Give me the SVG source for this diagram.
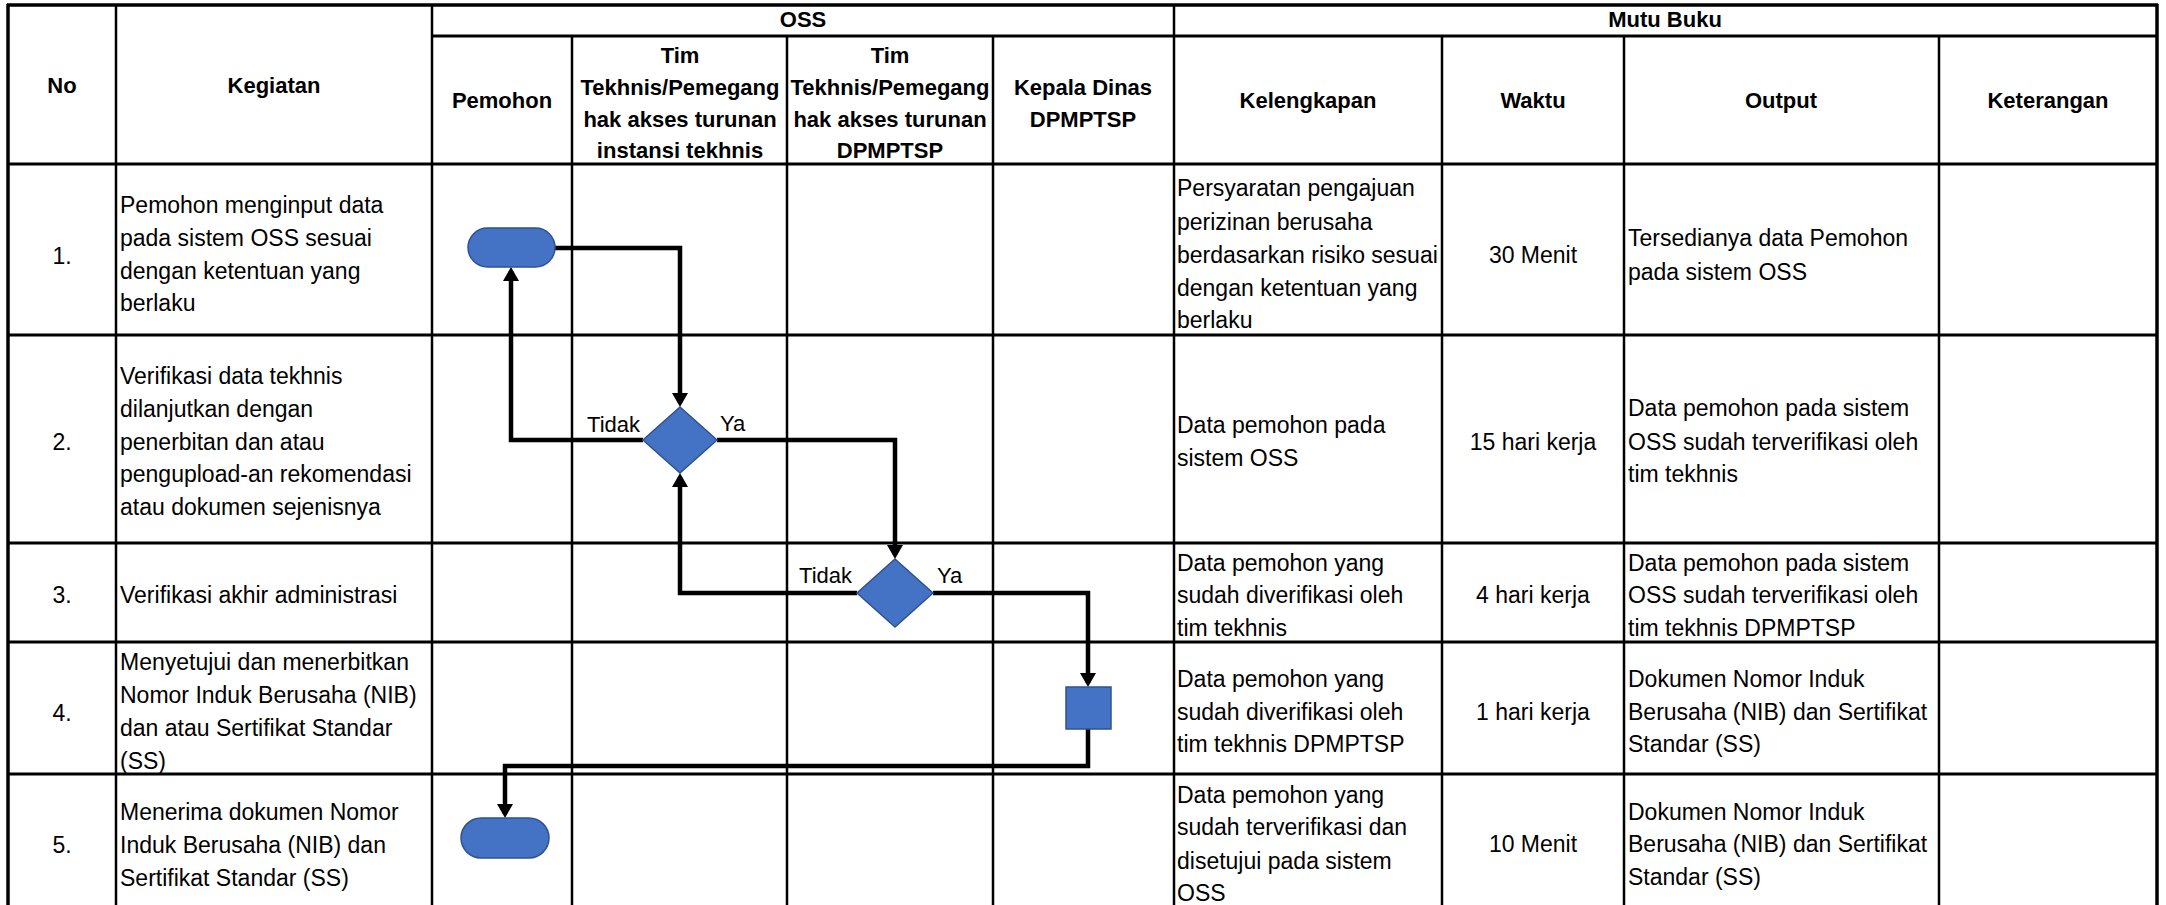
<svg xmlns="http://www.w3.org/2000/svg" width="2166" height="905" viewBox="0 0 2166 905">
<defs>
<style>
.t{font-family:"Liberation Sans",Arial,sans-serif;font-size:23px;fill:#000}
.b{font-weight:bold;font-size:22px}
.c{text-anchor:middle}
.e{text-anchor:end}
.lbl{font-family:"Liberation Sans",Arial,sans-serif;font-size:22px;fill:#000}
.g line{stroke:#000;stroke-width:2.5}
.g .h{stroke-width:3}
.g .o{stroke-width:3.5}
.shape{fill:#4472C4;stroke:#2F528F;stroke-width:1.5}
.conn{fill:none;stroke:#000;stroke-width:4.5;stroke-linejoin:miter}
</style>
<marker id="arr" markerUnits="userSpaceOnUse" markerWidth="16" markerHeight="16" refX="10" refY="8" orient="auto">
<path d="M0,0 L14,8 L0,16 z" fill="#000"/>
</marker>
</defs>
<rect x="0" y="0" width="2166" height="905" fill="#fff"/>

<g id="table" class="g">
<line class="o" x1="7" y1="5" x2="2158" y2="5"/>
<line class="h" x1="432" y1="36" x2="2157" y2="36"/>
<line class="h" x1="8" y1="164" x2="2157" y2="164"/>
<line class="h" x1="8" y1="335" x2="2157" y2="335"/>
<line class="h" x1="8" y1="543" x2="2157" y2="543"/>
<line class="h" x1="8" y1="642" x2="2157" y2="642"/>
<line class="h" x1="8" y1="774" x2="2157" y2="774"/>
<line class="o" x1="8" y1="4" x2="8" y2="905"/>
<line x1="116" y1="5" x2="116" y2="905"/>
<line x1="432" y1="5" x2="432" y2="905"/>
<line x1="572" y1="36" x2="572" y2="905"/>
<line x1="787" y1="36" x2="787" y2="905"/>
<line x1="993" y1="36" x2="993" y2="905"/>
<line x1="1174" y1="5" x2="1174" y2="905"/>
<line x1="1442" y1="36" x2="1442" y2="905"/>
<line x1="1624" y1="36" x2="1624" y2="905"/>
<line x1="1939" y1="36" x2="1939" y2="905"/>
<line class="o" x1="2157" y1="4" x2="2157" y2="905"/>
</g>

<g id="header">
<text class="t b c" x="803" y="27">OSS</text>
<text class="t b c" x="1665" y="27">Mutu Buku</text>
<text class="t b c" x="62" y="93">No</text>
<text class="t b c" x="274" y="93">Kegiatan</text>
<text class="t b c" x="502" y="108">Pemohon</text>
<text class="t b c" x="680" y="63">Tim</text>
<text class="t b c" x="680" y="95">Tekhnis/Pemegang</text>
<text class="t b c" x="680" y="127">hak akses turunan</text>
<text class="t b c" x="680" y="158">instansi tekhnis</text>
<text class="t b c" x="890" y="63">Tim</text>
<text class="t b c" x="890" y="95">Tekhnis/Pemegang</text>
<text class="t b c" x="890" y="127">hak akses turunan</text>
<text class="t b c" x="890" y="158">DPMPTSP</text>
<text class="t b c" x="1083" y="95">Kepala Dinas</text>
<text class="t b c" x="1083" y="127">DPMPTSP</text>
<text class="t b c" x="1308" y="108">Kelengkapan</text>
<text class="t b c" x="1533" y="108">Waktu</text>
<text class="t b c" x="1781" y="108">Output</text>
<text class="t b c" x="2048" y="108">Keterangan</text>
</g>

<g id="row1">
<text class="t c" x="62" y="264">1.</text>
<text class="t" x="120" y="213">Pemohon menginput data</text>
<text class="t" x="120" y="246">pada sistem OSS sesuai</text>
<text class="t" x="120" y="279">dengan ketentuan yang</text>
<text class="t" x="120" y="311">berlaku</text>
<text class="t" x="1177" y="196">Persyaratan pengajuan</text>
<text class="t" x="1177" y="230">perizinan berusaha</text>
<text class="t" x="1177" y="263">berdasarkan risiko sesuai</text>
<text class="t" x="1177" y="296">dengan ketentuan yang</text>
<text class="t" x="1177" y="328">berlaku</text>
<text class="t c" x="1533" y="263">30 Menit</text>
<text class="t" x="1628" y="246">Tersedianya data Pemohon</text>
<text class="t" x="1628" y="280">pada sistem OSS</text>
</g>

<g id="row2">
<text class="t c" x="62" y="450">2.</text>
<text class="t" x="120" y="384">Verifikasi data tekhnis</text>
<text class="t" x="120" y="417">dilanjutkan dengan</text>
<text class="t" x="120" y="450">penerbitan dan atau</text>
<text class="t" x="120" y="482">pengupload-an rekomendasi</text>
<text class="t" x="120" y="515">atau dokumen sejenisnya</text>
<text class="t" x="1177" y="433">Data pemohon pada</text>
<text class="t" x="1177" y="466">sistem OSS</text>
<text class="t c" x="1533" y="450">15 hari kerja</text>
<text class="t" x="1628" y="416">Data pemohon pada sistem</text>
<text class="t" x="1628" y="450">OSS sudah terverifikasi oleh</text>
<text class="t" x="1628" y="482">tim tekhnis</text>
</g>

<g id="row3">
<text class="t c" x="62" y="603">3.</text>
<text class="t" x="120" y="603">Verifikasi akhir administrasi</text>
<text class="t" x="1177" y="571">Data pemohon yang</text>
<text class="t" x="1177" y="603">sudah diverifikasi oleh</text>
<text class="t" x="1177" y="636">tim tekhnis</text>
<text class="t c" x="1533" y="603">4 hari kerja</text>
<text class="t" x="1628" y="571">Data pemohon pada sistem</text>
<text class="t" x="1628" y="603">OSS sudah terverifikasi oleh</text>
<text class="t" x="1628" y="636">tim tekhnis DPMPTSP</text>
</g>

<g id="row4">
<text class="t c" x="62" y="721">4.</text>
<text class="t" x="120" y="670">Menyetujui dan menerbitkan</text>
<text class="t" x="120" y="703">Nomor Induk Berusaha (NIB)</text>
<text class="t" x="120" y="736">dan atau Sertifikat Standar</text>
<text class="t" x="120" y="769">(SS)</text>
<text class="t" x="1177" y="687">Data pemohon yang</text>
<text class="t" x="1177" y="720">sudah diverifikasi oleh</text>
<text class="t" x="1177" y="752">tim tekhnis DPMPTSP</text>
<text class="t c" x="1533" y="720">1 hari kerja</text>
<text class="t" x="1628" y="687">Dokumen Nomor Induk</text>
<text class="t" x="1628" y="720">Berusaha (NIB) dan Sertifikat</text>
<text class="t" x="1628" y="752">Standar (SS)</text>
</g>

<g id="row5">
<text class="t c" x="62" y="853">5.</text>
<text class="t" x="120" y="820">Menerima dokumen Nomor</text>
<text class="t" x="120" y="853">Induk Berusaha (NIB) dan</text>
<text class="t" x="120" y="886">Sertifikat Standar (SS)</text>
<text class="t" x="1177" y="803">Data pemohon yang</text>
<text class="t" x="1177" y="835">sudah terverifikasi dan</text>
<text class="t" x="1177" y="869">disetujui pada sistem</text>
<text class="t" x="1177" y="901">OSS</text>
<text class="t c" x="1533" y="852">10 Menit</text>
<text class="t" x="1628" y="820">Dokumen Nomor Induk</text>
<text class="t" x="1628" y="852">Berusaha (NIB) dan Sertifikat</text>
<text class="t" x="1628" y="885">Standar (SS)</text>
</g>

<g id="connectors">
<path class="conn" d="M555,248 H680 V403" marker-end="url(#arr)"/>
<path class="conn" d="M643,440 H511 V271" marker-end="url(#arr)"/>
<path class="conn" d="M717,440 H895 V555" marker-end="url(#arr)"/>
<path class="conn" d="M857,593 H680 V477" marker-end="url(#arr)"/>
<path class="conn" d="M933,593 H1088 V683" marker-end="url(#arr)"/>
<path class="conn" d="M1088,729 V766 H505 V814" marker-end="url(#arr)"/>
<text class="lbl e" x="640" y="432">Tidak</text>
<text class="lbl" x="720" y="431">Ya</text>
<text class="lbl e" x="852" y="583">Tidak</text>
<text class="lbl" x="937" y="583">Ya</text>
</g>

<g id="n_start"><rect class="shape" x="468" y="228" width="87" height="39" rx="19.5" ry="19.5"/></g>
<g id="n_dec1"><polygon class="shape" points="680,407 717,440 680,473 643,440"/></g>
<g id="n_dec2"><polygon class="shape" points="895,559 933,593 895,627 857,593"/></g>
<g id="n_proc"><rect class="shape" x="1066" y="687" width="45" height="42"/></g>
<g id="n_end"><rect class="shape" x="461" y="818" width="88" height="40" rx="20" ry="20"/></g>
</svg>
